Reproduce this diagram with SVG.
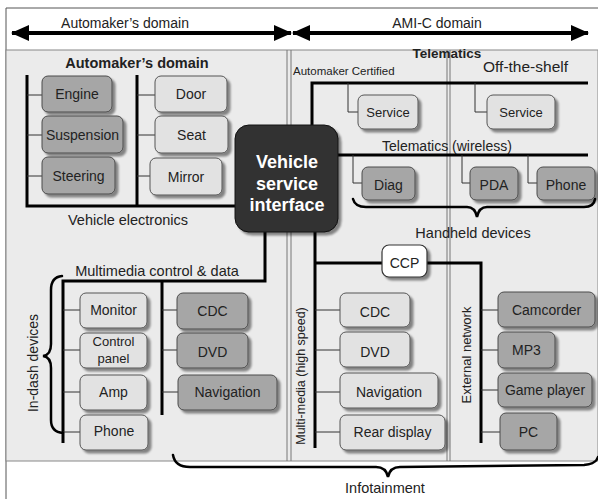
<svg xmlns="http://www.w3.org/2000/svg" width="598" height="499" viewBox="0 0 598 499">
<style>
.t{font-family:"Liberation Sans",Arial,sans-serif;font-size:14px;fill:#222;text-anchor:middle}
.s{text-anchor:start}
.b{font-weight:bold}
.w{fill:#fff;font-weight:bold;font-size:18px}
.bus{stroke:#000;stroke-width:3;fill:none}
.lnk{stroke:#333;stroke-width:1;fill:none}
.br{stroke:#000;stroke-width:2.5;fill:none;stroke-linecap:round}
.dk{fill:#a6a6a6;stroke:#4a4a4a;stroke-width:1;filter:url(#sh)}
.lt{fill:#e2e2e2;stroke:#555;stroke-width:1;filter:url(#sh)}
.wh{fill:#fff;stroke:#333;stroke-width:1.2;filter:url(#sh)}
.vsi{fill:#303030;stroke:#111;stroke-width:1;filter:url(#sh)}
.div{stroke:#777;stroke-width:1;fill:none}
.arr{stroke:#000;stroke-width:4;fill:none}
</style>
<defs>
<filter id="sh" x="-10%" y="-10%" width="125%" height="130%">
<feGaussianBlur in="SourceAlpha" stdDeviation="1"/>
<feOffset dx="3" dy="3" result="o"/>
<feComponentTransfer><feFuncA type="linear" slope="0.45"/></feComponentTransfer>
<feMerge><feMergeNode/><feMergeNode in="SourceGraphic"/></feMerge>
</filter>
<marker id="ah" viewBox="0 0 18 16" markerUnits="userSpaceOnUse" markerWidth="18" markerHeight="16" refX="17" refY="8" orient="auto-start-reverse">
<path d="M0,0 L18,8 L0,16 z" fill="#000"/>
</marker>
</defs>

<g id="frame">
<rect x="0" y="0" width="598" height="499" fill="#fff"/>
<path d="M6,499 V8 H598" stroke="#555" stroke-width="1" fill="none"/>
<rect x="6" y="50" width="592" height="411" fill="#ebebeb" stroke="#888" stroke-width="1"/>
<path class="div" d="M287,50 V461 M291,50 V461 M447,50 V461 M450,50 V461"/>
</g>

<g id="domains">
<path class="arr" d="M12,33 H291" marker-start="url(#ah)" marker-end="url(#ah)"/>
<path class="arr" d="M293,33 H588" marker-start="url(#ah)" marker-end="url(#ah)"/>
<text class="t" x="125" y="28">Automaker’s domain</text>
<text class="t" x="437" y="28">AMI-C domain</text>
</g>

<g id="labels">
<text class="t b" x="137" y="68" style="font-size:14.5px">Automaker’s domain</text>
<text class="t b" x="447" y="58" style="font-size:13.5px">Telematics</text>
<text class="t s" x="293" y="75" style="font-size:11.5px">Automaker Certified</text>
<text class="t s" x="483" y="72" style="font-size:15.5px">Off-the-shelf</text>
<text class="t s" x="382" y="151">Telematics (wireless)</text>
<text class="t" x="473" y="238" style="font-size:14.5px">Handheld devices</text>
<text class="t" x="128" y="225" style="font-size:14.5px">Vehicle electronics</text>
<text class="t" x="157" y="276" style="font-size:14.5px">Multimedia control &amp; data</text>
<text class="t" x="385" y="493" style="font-size:14.5px">Infotainment</text>
<text class="t" transform="translate(38,363) rotate(-90)">In-dash devices</text>
<text class="t" transform="translate(305,376) rotate(-90)" style="font-size:12.5px">Multi-media (high speed)</text>
<text class="t" transform="translate(471,355) rotate(-90)" style="font-size:13px">External network</text>
</g>

<g id="connectors">
<path class="bus" d="M27,75 V206 H236 M137,75 V206"/>
<path class="bus" d="M312,126 V83 H588"/>
<path class="bus" d="M337,155 H588"/>
<path class="bus" d="M265,231 V281 H63 V443 M162,281 V415"/>
<path class="bus" d="M315,231 V448 M315,263 H382 M427,263 H481 V443"/>
<path class="lnk" d="M27,95 H42 M27,135 H42 M27,176 H42 M137,95 H155 M137,135 H155 M137,176 H150"/>
<path class="lnk" d="M348,83 V112 H358 M475,83 V112 H487"/>
<path class="lnk" d="M353,155 V183 H362 M462,155 V183 H470 M528,155 V183 H537"/>
<path class="lnk" d="M63,310 H80 M63,350 H80 M63,392 H80 M63,432 H80 M162,310 H177 M162,350 H177 M162,392 H178"/>
<path class="lnk" d="M315,310 H340 M315,350 H340 M315,392 H340 M315,432 H340"/>
<path class="lnk" d="M481,310 H498 M481,350 H498 M481,390 H498 M481,432 H500"/>
<path class="br" d="M353,199 Q355,207 366,207 L467,207 Q475,207 477,217 Q479,207 487,207 L584,207 Q594,207 595,199"/>
<path class="br" d="M62,276 Q51,277 51,290 L51,344 Q51,355 43,356 Q51,357 51,368 L51,420 Q51,432 63,433"/>
<path class="br" d="M173,455 Q175,467 190,467 L376,467 Q386,467 388,477 Q390,467 400,467 L584,465 Q596,464 598,457"/>
</g>

<g id="vsi"><rect class="vsi" x="235" y="125" width="103" height="107" rx="14"/>
<text class="t w" x="287" y="168">Vehicle</text><text class="t w" x="287" y="190">service</text><text class="t w" x="287" y="211">interface</text></g>

<g id="engine"><rect class="dk" x="42" y="76" width="70" height="36" rx="6"/><text class="t" x="77" y="99">Engine</text></g>
<g id="suspension"><rect class="dk" x="42" y="116" width="81" height="37" rx="6"/><text class="t" x="82.5" y="140">Suspension</text></g>
<g id="steering"><rect class="dk" x="42" y="157" width="73" height="37" rx="6"/><text class="t" x="78.5" y="181">Steering</text></g>
<g id="door"><rect class="lt" x="155" y="76" width="72" height="36" rx="6"/><text class="t" x="191" y="99">Door</text></g>
<g id="seat"><rect class="lt" x="155" y="116" width="73" height="37" rx="6"/><text class="t" x="191.5" y="140">Seat</text></g>
<g id="mirror"><rect class="lt" x="150" y="158" width="72" height="37" rx="6"/><text class="t" x="186" y="182">Mirror</text></g>

<g id="service-certified"><rect class="lt" x="358" y="95" width="60" height="34" rx="6"/><text class="t" x="388" y="117" style="font-size:13px">Service</text></g>
<g id="service-shelf"><rect class="lt" x="487" y="95" width="68" height="34" rx="6"/><text class="t" x="521" y="117" style="font-size:13px">Service</text></g>
<g id="diag"><rect class="dk" x="362" y="167" width="53" height="33" rx="6"/><text class="t" x="388.5" y="190">Diag</text></g>
<g id="pda"><rect class="dk" x="470" y="167" width="48" height="33" rx="6"/><text class="t" x="494" y="190">PDA</text></g>
<g id="phone-handheld"><rect class="dk" x="537" y="167" width="58" height="33" rx="6"/><text class="t" x="566" y="190">Phone</text></g>
<g id="ccp"><rect class="wh" x="382" y="245" width="45" height="32" rx="7"/><text class="t" x="404.5" y="268">CCP</text></g>

<g id="monitor"><rect class="lt" x="80" y="293" width="67" height="35" rx="6"/><text class="t" x="113.5" y="315">Monitor</text></g>
<g id="control-panel"><rect class="lt" x="80" y="333" width="67" height="35" rx="6"/><text class="t" x="113.5" y="346" style="font-size:13px">Control</text><text class="t" x="113.5" y="363" style="font-size:13px">panel</text></g>
<g id="amp"><rect class="lt" x="80" y="375" width="67" height="35" rx="6"/><text class="t" x="113.5" y="397">Amp</text></g>
<g id="phone-indash"><rect class="lt" x="80" y="415" width="68" height="35" rx="6"/><text class="t" x="114" y="436">Phone</text></g>
<g id="cdc-left"><rect class="dk" x="177" y="293" width="71" height="36" rx="6"/><text class="t" x="212.5" y="316">CDC</text></g>
<g id="dvd-left"><rect class="dk" x="177" y="333" width="71" height="35" rx="6"/><text class="t" x="212.5" y="357">DVD</text></g>
<g id="navigation-left"><rect class="dk" x="178" y="375" width="99" height="35" rx="6"/><text class="t" x="227.5" y="397">Navigation</text></g>

<g id="cdc-mid"><rect class="lt" x="340" y="293" width="70" height="34" rx="6"/><text class="t" x="375" y="317">CDC</text></g>
<g id="dvd-mid"><rect class="lt" x="340" y="332" width="70" height="35" rx="6"/><text class="t" x="375" y="357">DVD</text></g>
<g id="navigation-mid"><rect class="lt" x="340" y="373" width="98" height="35" rx="6"/><text class="t" x="389" y="397">Navigation</text></g>
<g id="rear-display"><rect class="lt" x="340" y="415" width="105" height="35" rx="6"/><text class="t" x="392.5" y="437">Rear display</text></g>

<g id="camcorder"><rect class="dk" x="498" y="292" width="97" height="35" rx="6"/><text class="t" x="546.5" y="315">Camcorder</text></g>
<g id="mp3"><rect class="dk" x="498" y="332" width="57" height="36" rx="6"/><text class="t" x="526.5" y="355">MP3</text></g>
<g id="game-player"><rect class="dk" x="498" y="373" width="94" height="34" rx="6"/><text class="t" x="545" y="395">Game player</text></g>
<g id="pc"><rect class="dk" x="500" y="413" width="57" height="37" rx="6"/><text class="t" x="528.5" y="437">PC</text></g>
</svg>
